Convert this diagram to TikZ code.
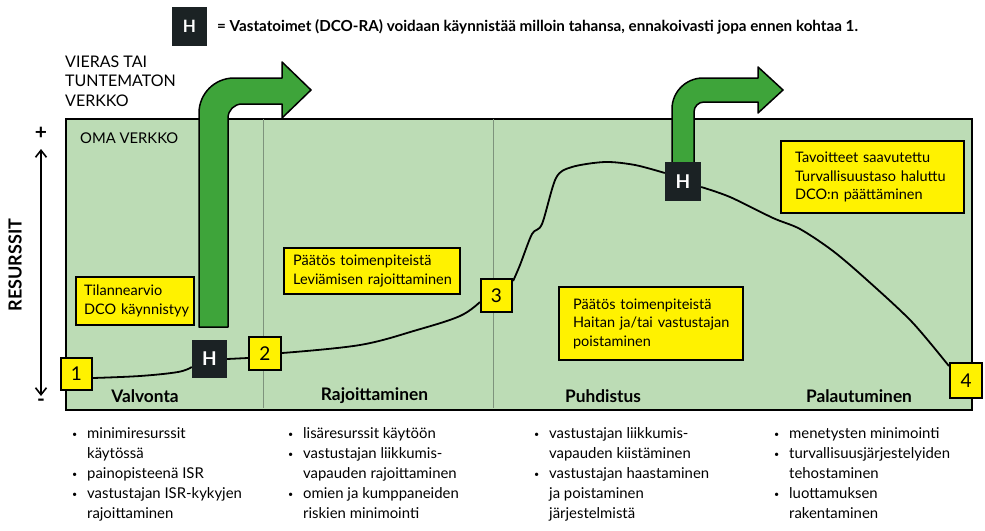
\documentclass[tikz,border=0pt]{standalone}
\usepackage{fontspec}
\setmainfont{Lato}
\usetikzlibrary{arrows.meta}
\definecolor{panelgreen}{HTML}{BCDCB5}
\definecolor{arrowgreen}{HTML}{3EA43A}
\definecolor{hdark}{HTML}{1B2224}
\definecolor{divgray}{HTML}{7E937C}
\begin{document}
\begin{tikzpicture}[x=1pt,y=-1pt,
  ybox/.style={draw=black,line width=2.2pt,fill=yellow,anchor=north west,align=left,inner xsep=0pt,inner ysep=0pt,font=\fontsize{14.5}{18.5}\selectfont},
  numbox/.style={draw=black,line width=2.2pt,fill=yellow,inner sep=0pt,font=\fontsize{19}{19}\selectfont},
  hbox/.style={fill=hdark,text=white,inner sep=0pt,font=\bfseries\fontsize{19}{19}\selectfont},
  phase/.style={font=\bfseries\fontsize{17.3}{18}\selectfont},
  blist/.style={anchor=north west,align=left,inner sep=0pt,font=\fontsize{14.9}{20}\selectfont},
  bigarrow/.style={fill=arrowgreen,draw=black,line width=1.5pt,line join=round},
  curve/.style={draw=black,line width=1.8pt}
]
\useasboundingbox (0,0) rectangle (985,530);
\newcommand{\bl}{\makebox[15pt][l]{\raisebox{1pt}{\scalebox{0.6}{•}}}}
\newcommand{\ind}{\hspace*{15pt}}

% legend
\node[hbox,minimum width=35pt,minimum height=39pt,font=\bfseries\fontsize{17}{17}\selectfont] (legH) at (189.5,26.5) {H};
\node[anchor=base west,inner sep=0pt,font=\bfseries\fontsize{15.2}{17}\selectfont] (legT) at (217,31) {= Vastatoimet (DCO-RA) voidaan käynnistää milloin tahansa, ennakoivasti jopa ennen kohtaa 1.};

% outside network label
\node[anchor=base west,align=left,inner sep=0pt,font=\fontsize{16}{19.3}\selectfont] (vieras) at (65,106) {VIERAS TAI\\TUNTEMATON\\VERKKO};

% panel
\node[draw=black,fill=panelgreen,line width=2pt,anchor=north west,minimum width=906pt,minimum height=291pt,inner sep=0pt] (panel) at (65,118) {};
\node[anchor=base west,inner sep=0pt,font=\fontsize{14.8}{16}\selectfont] (oma) at (80,143) {OMA VERKKO};
\coordinate (d1t) at (263,119); \coordinate (d1b) at (263,408);
\coordinate (d2t) at (493,119); \coordinate (d2b) at (493,408);
\draw[divgray,line width=1pt] (d1t) -- (d1b);
\draw[divgray,line width=1pt] (d2t) -- (d2b);

% axis
\node[font=\bfseries\fontsize{21}{21}\selectfont,inner sep=0pt] (plus) at (41,133) {+};
\node[font=\bfseries\fontsize{21}{21}\selectfont,inner sep=0pt] (minus) at (41,403) {-};
\coordinate (axt) at (41,149); \coordinate (axb) at (41,396);
\draw[line width=1.6pt,{Straight Barb[length=7pt,width=11pt,line width=1.6pt]}-{Straight Barb[length=7pt,width=11pt,line width=1.6pt]}] (axt) -- (axb);
\node[rotate=90,font=\bfseries\fontsize{18}{18}\selectfont,inner sep=0pt] (res) at (15,265) {RESURSSIT};

% big green arrows
\draw[bigarrow] (199,327) -- (199,113) arc[start angle=180,end angle=270,radius=35] -- (282,78) -- (282,62) -- (311,90) -- (282,118) -- (282,104) -- (242,104) arc[start angle=270,end angle=180,radius=14] -- (228,327) -- cycle;
\draw[bigarrow] (672,170) -- (672,109) arc[start angle=180,end angle=270,radius=31] -- (758,78) -- (758,67) -- (783,90) -- (758,113) -- (758,102) -- (704,102) arc[start angle=270,end angle=180,radius=10] -- (694,170) -- cycle;

% number and H boxes
\node[numbox,minimum width=31pt,minimum height=32pt] (n1) at (76.5,374) {1};
\node[numbox,minimum width=32pt,minimum height=33pt] (n2) at (265,353.5) {2};
\node[numbox,minimum width=31pt,minimum height=33pt] (n3) at (496.5,295.5) {3};
\node[numbox,minimum width=32pt,minimum height=35pt] (n4) at (966,380.5) {4};
\node[hbox,minimum width=35pt,minimum height=38pt] (h1) at (209.5,359) {H};
\node[hbox,minimum width=36pt,minimum height=39pt] (h2) at (683,181.5) {H};

% resource curve
\draw[curve] plot[smooth,tension=0.6] coordinates {(n1.east |- 0,378) (140,376) (178,372) (h1.west |- 0,367)};
\draw[curve] (h1.east |- 0,359) -- (n2.west |- 0,358);
\draw[curve] plot[smooth,tension=0.6] coordinates {(n2.east |- 0,353) (360,345) (417,330) (460,316) (n3.north west |- 0,302)};
\draw[curve] plot[smooth,tension=0.5] coordinates {(n3.north east |- 0,281) (520,265) (532,234) (542,224) (556,178) (572,167) (605,162) (635,165) (h2.west |- 0,173)};
\draw[curve] plot[smooth,tension=0.5] coordinates {(h2.east |- 0,187) (730,197) (773,218) (800,229) (833,251) (867,280) (912,322) (n4.north west |- 0,366)};

% redraw boxes over curve ends
\node[numbox,minimum width=31pt,minimum height=32pt] at (n1) {1};
\node[numbox,minimum width=32pt,minimum height=33pt] at (n2) {2};
\node[numbox,minimum width=31pt,minimum height=33pt] at (n3) {3};
\node[numbox,minimum width=32pt,minimum height=35pt] at (n4) {4};
\node[hbox,minimum width=35pt,minimum height=38pt] at (h1) {H};
\node[hbox,minimum width=36pt,minimum height=39pt] at (h2) {H};

% yellow text boxes
\node[ybox,minimum width=118pt,minimum height=48pt,text width=118pt] (b1) at (75,276) {\hspace*{8pt}Tilannearvio\\\hspace*{8pt}DCO käynnistyy};
\node[ybox,minimum width=176pt,minimum height=46pt,text width=176pt] (b2) at (283,247) {\hspace*{9pt}Päätös toimenpiteistä\\\hspace*{9pt}Leviämisen rajoittaminen};
\node[ybox,minimum width=184pt,minimum height=73pt,text width=184pt] (b3) at (558,286) {\hspace*{14pt}Päätös toimenpiteistä\\\hspace*{14pt}Haitan ja/tai vastustajan\\\hspace*{14pt}poistaminen};
\node[ybox,minimum width=183pt,minimum height=72pt,text width=183pt] (b4) at (780,140) {\hspace*{14pt}Tavoitteet saavutettu\\\hspace*{14pt}Turvallisuustaso haluttu\\\hspace*{14pt}DCO:n päättäminen};

% phase labels
\node[phase] (p1) at (145,396) {Valvonta};
\node[phase] (p2) at (374.5,396) {Rajoittaminen};
\node[phase] (p3) at (603,396) {Puhdistus};
\node[phase] (p4) at (859,396) {Palautuminen};

% bullet lists
\node[blist] (l1) at (72,427) {\bl minimiresurssit\\\ind käytössä\\\bl painopisteenä ISR\\\bl vastustajan ISR-kykyjen\\\ind rajoittaminen};
\node[blist] (l2) at (288,427) {\bl lisäresurssit käytöön\\\bl vastustajan liikkumis-\\\ind vapauden rajoittaminen\\\bl omien ja kumppaneiden\\\ind riskien minimointi};
\node[blist] (l3) at (534,427) {\bl vastustajan liikkumis-\\\ind vapauden kiistäminen\\\bl vastustajan haastaminen\\\ind ja poistaminen\\\ind järjestelmistä};
\node[blist] (l4) at (774,427) {\bl menetysten minimointi\\\bl turvallisuusjärjestelyiden\\\ind tehostaminen\\\bl luottamuksen\\\ind rakentaminen};
\end{tikzpicture}
\end{document}
